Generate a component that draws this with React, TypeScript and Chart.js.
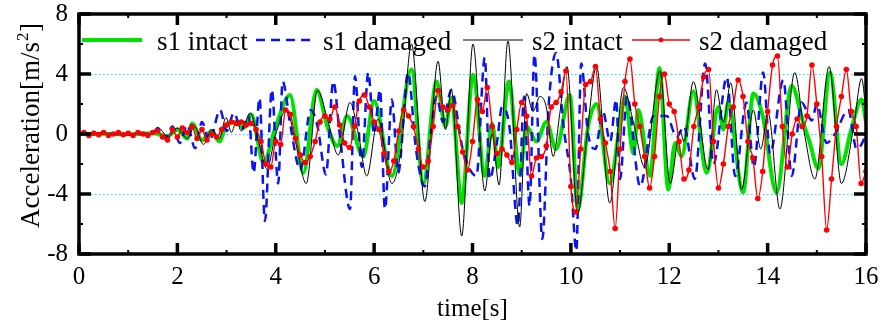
import React, { useEffect, useRef } from 'react';
import { Chart, registerables } from 'chart.js';

Chart.register(...registerables);

// ---------- data ----------
const xTickValues = [0, 2, 4, 6, 8, 10, 12, 14, 16];
const yTickValues = [-8, -4, 0, 4, 8];
const gridValues = [-4, 0, 4];

// s1 intact (green): time [s] and acceleration [m/s²]
const s1IntactT = [0, 0.5, 1.0, 1.5, 1.8, 2.0, 2.2, 2.3, 2.5, 2.7, 2.85, 3.0, 3.2, 3.35, 3.5, 3.75, 4.0, 4.29, 4.56, 4.83, 5.05, 5.25, 5.45, 5.78, 6.0, 6.36, 6.76, 7.0, 7.27, 7.45, 7.57, 7.78, 8.01, 8.25, 8.4, 8.52, 8.74, 8.96, 9.1, 9.3, 9.5, 9.7, 9.98, 10.14, 10.35, 10.52, 10.79, 11.0, 11.1, 11.27, 11.37, 11.61, 11.8, 11.98, 12.12, 12.25, 12.49, 12.76, 13.0, 13.1, 13.2, 13.5, 13.71, 13.9, 14.18, 14.49, 14.72, 14.85, 15.03, 15.27, 15.5, 15.7, 15.91, 16.0];
const s1IntactA = [0, 0.02, -0.02, 0.05, -0.15, 0.3, -0.3, 0.7, -0.4, 0.2, -0.5, 0.6, 0.8, 0.4, 1.3, -1.9, 0.5, 2.6, -2.6, 2.95, 0.5, -0.8, 1.2, -1.5, 2.2, -2.8, 4.3, -3.3, 3.5, 0.5, 2.4, -4.6, 3.95, -2.8, 0.7, -2.2, 3.5, -2.7, 0.5, -0.5, 0.8, -1.0, 2.6, -5.0, 0.5, 2.0, -3.3, 0.7, 2.5, -1.3, 1.6, -2.8, 4.4, -3.7, -0.6, -1.5, 2.85, -2.6, 1.8, 0.3, 2.1, -3.9, 2.7, 1.2, -3.9, 3.2, 0.8, -0.5, -2.3, 4.1, -2.0, 0.3, 2.3, 0.8];

// s1 damaged (blue dashed)
const s1DamagedT = [0, 0.5, 1.0, 1.5, 1.6, 1.75, 1.9, 2.05, 2.2, 2.36, 2.5, 2.65, 2.87, 3.0, 3.15, 3.3, 3.45, 3.55, 3.67, 3.78, 3.92, 4.05, 4.14, 4.3, 4.5, 4.71, 4.85, 5.02, 5.17, 5.3, 5.51, 5.61, 5.75, 5.88, 6.0, 6.12, 6.22, 6.36, 6.49, 6.69, 6.85, 7.03, 7.15, 7.27, 7.4, 7.57, 7.8, 8.08, 8.25, 8.35, 8.5, 8.6, 8.75, 8.92, 9.05, 9.16, 9.26, 9.42, 9.55, 9.7, 9.85, 10.0, 10.11, 10.21, 10.35, 10.5, 10.65, 10.8, 10.92, 11.0, 11.14, 11.41, 11.68, 11.95, 12.15, 12.3, 12.52, 12.73, 12.9, 13.17, 13.34, 13.57, 13.72, 13.91, 14.05, 14.32, 14.49, 14.69, 14.9, 15.0, 15.2, 15.37, 15.64, 15.81, 15.95, 16.0];
const s1DamagedA = [0, 0.03, -0.03, 0.05, 0.4, -0.3, 0.5, -0.6, 0.6, -0.95, 0.8, -0.5, 1.6, 0.2, 1.4, 0.3, 1.2, -2.6, 2.4, -5.8, 2.95, -3.3, 3.5, 0.5, -2.4, 1.6, 0.5, -2.7, 3.5, 0.0, -5.0, 3.85, -2.2, 4.1, 0.0, 2.95, -5.0, 2.3, -2.6, 4.1, -1.0, -3.5, 0.0, 2.5, 0.8, 2.95, -1.0, -2.8, 5.1, -3.0, -0.5, 1.8, 0.5, -6.1, 2.5, -4.8, 5.3, -7.0, 2.0, 5.4, 0.5, -3.0, -7.8, 4.7, 0.0, -1.0, 1.5, -0.5, 2.3, -3.0, 2.5, -3.5, 1.2, 1.2, -0.2, 0.5, -3.0, 4.7, -2.0, 3.8, -2.8, 2.1, -2.2, 4.1, -1.3, 3.6, -2.8, 2.1, 0.9, 2.0, -0.6, 0.0, 1.6, -1.0, -0.4, 0.2];

// s2 intact (black thin)
const s2IntactT = [0, 0.4, 0.8, 1.2, 1.5, 1.65, 1.8, 2.0, 2.2, 2.35, 2.53, 2.7, 2.85, 2.99, 3.1, 3.2, 3.3, 3.48, 3.65, 3.82, 4.0, 4.22, 4.4, 4.62, 4.85, 5.05, 5.27, 5.51, 5.68, 5.85, 6.08, 6.36, 6.55, 6.76, 7.03, 7.3, 7.45, 7.57, 7.78, 8.01, 8.25, 8.4, 8.54, 8.72, 8.96, 9.1, 9.23, 9.37, 9.5, 9.64, 9.78, 9.92, 10.14, 10.33, 10.52, 10.79, 11.07, 11.27, 11.5, 11.81, 12.02, 12.22, 12.3, 12.49, 12.79, 12.96, 13.1, 13.25, 13.47, 13.71, 13.86, 14.01, 14.25, 14.55, 14.75, 14.96, 15.25, 15.5, 15.75, 15.91, 16.0];
const s2IntactA = [0, 0.05, -0.05, 0.05, 0.0, 0.3, -0.2, 0.4, -0.3, 0.5, -0.7, 0.3, -0.3, 1.1, 0.1, 0.9, 0.2, 1.4, -0.5, -2.3, 0.0, 1.6, -0.5, -3.3, 2.9, 1.0, -1.4, 2.1, 0.0, -2.8, 1.0, -3.3, -1.0, 6.0, -4.5, 4.85, 0.3, 2.95, -6.8, 6.0, -3.8, 0.0, -3.4, 6.2, -6.2, 2.7, 1.5, 2.5, 1.8, -1.5, 1.5, 4.5, -5.3, 0.0, 4.5, -4.6, 3.1, 0.8, -2.2, 4.2, -3.3, 0.2, -0.5, 3.5, -2.4, 2.95, 0.8, 3.4, -3.7, 1.6, -1.0, 1.4, -5.0, 4.1, 0.0, -3.0, 4.5, -3.3, 0.5, 3.7, 1.5];

// s2 damaged (red with markers), sampled every 0.1 s from 0 to 16 s
const s2DamagedStep = 0.1;
const s2DamagedA = [
  0, 0.1, -0.1, 0.05, -0.05, 0.1, -0.1, 0.0, 0.1, -0.05,
  0.05, -0.1, 0.1, 0.0, -0.1, 0.1, 0.2, -0.2, -0.4, 0.3,
  -0.2, 0.4, 0.1, 0.5, -0.3, 0.3, -0.4, 0.0, -0.2, 0.3,
  0.6, 0.8, 0.7, 0.8, 0.6, 0.7, 0.3, -0.5, -2.0, -2.2,
  -0.5, -0.7, 1.6, 1.3, -0.3, -1.4, -1.9, -1.5, -0.5, 0.8,
  1.2, 1.0, 1.8, 0.6, -0.6, -0.9, 0.5, 2.2, 2.6, 1.8,
  0.8, 0.3, -1.3, -2.5, -1.8, 0.2, 1.6, 1.2, 0.5, -1.0,
  -2.2, -1.8, 0.5, 2.9, 1.8, 1.6, 1.9, 0.5, -1.2, -2.4,
  -0.5, 2.3, 1.5, 3.1, 0.5, -1.3, -1.0, -1.4, -1.9, 0.3,
  2.1, 1.2, -2.8, -1.6, -1.5, -0.8, 1.8, 2.1, 2.8, 4.2,
  -3.5, -5.2, -1.0, 3.3, 3.5, 4.5, 1.0, -0.6, -2.5, -6.3,
  -1.0, 3.5, 5.0, 2.0, 0.5, -1.5, -3.6, -1.5, 2.5, 4.0,
  2.0, 1.5, -0.5, -3.0, -2.4, 0.5, 1.8, 3.8, 4.3, -0.5,
  -3.6, -2.0, 0.5, 1.8, 3.6, 2.5, -0.5, -1.6, -4.3, -2.5,
  1.5, 4.6, 5.2, 0.5, -2.2, 0.0, 1.0, 0.5, 1.2, 4.6,
  2.0, -1.5, -6.4, -3.0, 0.5, 2.5, 4.3, 1.5, 0.5, -3.3,
  -2.5,
];

const seriesLabels = ['s1 intact', 's1 damaged', 's2 intact', 's2 damaged'];
const yTitleMain = 'Acceleration[m/s';
const yTitleSup = '2';
const yTitleEnd = ']';

// ---------- helpers ----------
function pairs(t: number[], a: number[]) {
  const n = Math.min(t.length, a.length);
  const out: { x: number; y: number }[] = [];
  for (let i = 0; i < n; i++) out.push({ x: t[i], y: a[i] });
  return out;
}

const FONT = '"Liberation Serif", "Times New Roman", serif';

// legend slots (line start, line end, text start) in canvas px
const legendSlots = [
  { x0: 82, x1: 142, tx: 157 },
  { x0: 256, x1: 316, tx: 323 },
  { x0: 463, x1: 523, tx: 532 },
  { x0: 632, x1: 690, tx: 699 },
];

const framePlugin = {
  id: 'framePlugin',
  beforeDatasetsDraw(chart: any) {
    const { ctx, chartArea: a, scales } = chart;
    const y = scales.y;
    ctx.save();
    ctx.strokeStyle = 'rgb(0,230,255)';
    ctx.lineWidth = 1;
    ctx.setLineDash([1.5, 2.5]);
    for (const v of gridValues) {
      const py = Math.round(y.getPixelForValue(v)) + 0.5;
      ctx.beginPath();
      ctx.moveTo(a.left, py);
      ctx.lineTo(a.right, py);
      ctx.stroke();
    }
    ctx.restore();
  },
  afterDatasetsDraw(chart: any) {
    const { ctx, chartArea: a, scales } = chart;
    const x = scales.x;
    const y = scales.y;
    ctx.save();
    // markers for datasets that carry a markerRadius (placed through the scales)
    ctx.beginPath();
    ctx.rect(a.left, a.top, a.right - a.left, a.bottom - a.top);
    ctx.clip();
    chart.data.datasets.forEach((ds: any) => {
      if (!ds.markerRadius) return;
      ctx.fillStyle = ds.markerColor;
      for (const p of ds.data) {
        ctx.beginPath();
        ctx.arc(x.getPixelForValue(p.x), y.getPixelForValue(p.y), ds.markerRadius, 0, Math.PI * 2);
        ctx.fill();
      }
    });
    ctx.restore();

    ctx.save();
    ctx.setLineDash([]);
    ctx.strokeStyle = '#000';
    // frame
    ctx.lineWidth = 3.5;
    ctx.strokeRect(a.left, a.top, a.right - a.left, a.bottom - a.top);
    // x ticks (major every 2, minor every 1), bottom and top, inward
    for (let v = 0; v <= 16; v += 1) {
      const px = x.getPixelForValue(v);
      const major = v % 2 === 0;
      const len = major ? 11 : 4;
      ctx.lineWidth = major ? 3.5 : 2;
      ctx.beginPath();
      ctx.moveTo(px, a.bottom);
      ctx.lineTo(px, a.bottom - len);
      ctx.moveTo(px, a.top);
      ctx.lineTo(px, a.top + len);
      ctx.stroke();
    }
    // y ticks (major every 4, minor every 2), left and right, inward
    for (let v = -8; v <= 8; v += 2) {
      const py = y.getPixelForValue(v);
      const major = v % 4 === 0;
      const len = major ? 12 : 4;
      ctx.lineWidth = major ? 3.5 : 2;
      ctx.beginPath();
      ctx.moveTo(a.left, py);
      ctx.lineTo(a.left + len, py);
      ctx.moveTo(a.right, py);
      ctx.lineTo(a.right - len, py);
      ctx.stroke();
    }
    // legend
    const ly = 40;
    ctx.font = '27px ' + FONT;
    ctx.textBaseline = 'alphabetic';
    ctx.textAlign = 'left';
    chart.data.datasets.forEach((ds: any, i: number) => {
      const s = legendSlots[i];
      if (!s) return;
      ctx.strokeStyle = ds.borderColor;
      ctx.lineWidth = ds.borderWidth;
      ctx.setLineDash(ds.borderDash || []);
      ctx.beginPath();
      ctx.moveTo(s.x0, ly);
      ctx.lineTo(s.x1, ly);
      ctx.stroke();
      ctx.setLineDash([]);
      if (ds.markerRadius) {
        ctx.fillStyle = ds.markerColor;
        ctx.beginPath();
        ctx.arc((s.x0 + s.x1) / 2, ly, 2.4, 0, Math.PI * 2);
        ctx.fill();
      }
      ctx.fillStyle = '#000';
      ctx.fillText(ds.label, s.tx, ly + 10);
    });
    ctx.restore();

    // y axis title with a real superscript
    ctx.save();
    ctx.translate(39, 228);
    ctx.rotate(-Math.PI / 2);
    ctx.fillStyle = '#000';
    ctx.textBaseline = 'alphabetic';
    ctx.textAlign = 'left';
    ctx.font = '27px ' + FONT;
    ctx.fillText(yTitleMain, 0, 0);
    let w = ctx.measureText(yTitleMain).width;
    ctx.font = '17px ' + FONT;
    ctx.fillText(yTitleSup, w + 1, -11);
    w += ctx.measureText(yTitleSup).width + 1.5;
    ctx.font = '27px ' + FONT;
    ctx.fillText(yTitleEnd, w, 0);
    ctx.restore();
  },
};

export default function App() {
  const ref = useRef<HTMLCanvasElement>(null);
  useEffect(() => {
    const canvas = ref.current;
    if (!canvas) return;
    const red = 'rgb(255,0,0)';
    const chart = new Chart(canvas, {
      type: 'line',
      data: {
        datasets: [
          {
            label: seriesLabels[0],
            data: pairs(s1IntactT, s1IntactA),
            borderColor: 'rgb(0,225,0)',
            borderWidth: 4,
            pointRadius: 0,
            cubicInterpolationMode: 'monotone',
            fill: false,
            order: 4,
          },
          {
            label: seriesLabels[1],
            data: pairs(s1DamagedT, s1DamagedA),
            borderColor: 'rgb(10,20,240)',
            borderWidth: 2.5,
            borderDash: [9, 6],
            pointRadius: 0,
            cubicInterpolationMode: 'monotone',
            fill: false,
            order: 3,
          },
          {
            label: seriesLabels[2],
            data: pairs(s2IntactT, s2IntactA),
            borderColor: '#000',
            borderWidth: 1,
            pointRadius: 0,
            cubicInterpolationMode: 'monotone',
            fill: false,
            order: 2,
          },
          {
            label: seriesLabels[3],
            data: s2DamagedA.map((v, i) => ({ x: +(i * s2DamagedStep).toFixed(2), y: v })),
            borderColor: red,
            borderWidth: 1.4,
            pointRadius: 0,
            markerRadius: 2.8,
            markerColor: red,
            cubicInterpolationMode: 'monotone',
            fill: false,
            order: 1,
          },
        ] as any,
      },
      options: {
        responsive: false,
        maintainAspectRatio: false,
        animation: false,
        devicePixelRatio: 1,
        layout: { padding: { top: 14, right: 16, left: 0, bottom: 0 } },
        plugins: { legend: { display: false }, tooltip: { enabled: false } },
        scales: {
          x: {
            type: 'linear',
            min: 0,
            max: 16,
            afterFit(scale: any) {
              scale.height = 70;
              scale.paddingLeft = 0;
              scale.paddingRight = 0;
            },
            afterBuildTicks(scale: any) {
              scale.ticks = xTickValues.map((v) => ({ value: v }));
            },
            grid: { display: false, drawTicks: false },
            border: { display: false },
            ticks: {
              autoSkip: false,
              maxRotation: 0,
              padding: 8,
              color: '#000',
              font: { family: FONT, size: 25 },
              callback: (v: any) => String(v),
            },
            title: {
              display: true,
              text: 'time[s]',
              color: '#000',
              font: { family: FONT, size: 25 },
              padding: { top: 0, bottom: 0 },
            },
          },
          y: {
            type: 'linear',
            min: -8,
            max: 8,
            afterFit(scale: any) {
              scale.width = 79;
              scale.paddingTop = 0;
              scale.paddingBottom = 0;
            },
            afterBuildTicks(scale: any) {
              scale.ticks = yTickValues.map((v) => ({ value: v }));
            },
            grid: { display: false, drawTicks: false },
            border: { display: false },
            ticks: {
              padding: 11,
              color: '#000',
              font: { family: FONT, size: 25 },
              callback: (v: any) => String(v),
            },
            title: { display: false },
          },
        },
      } as any,
      plugins: [framePlugin],
    });
    return () => chart.destroy();
  }, []);
  return (
    <div style={{ position: 'fixed', left: 0, top: 0, width: 882, height: 324, background: '#fff' }}>
      <canvas ref={ref} width={882} height={324} style={{ display: 'block', width: 882, height: 324 }} />
    </div>
  );
}
